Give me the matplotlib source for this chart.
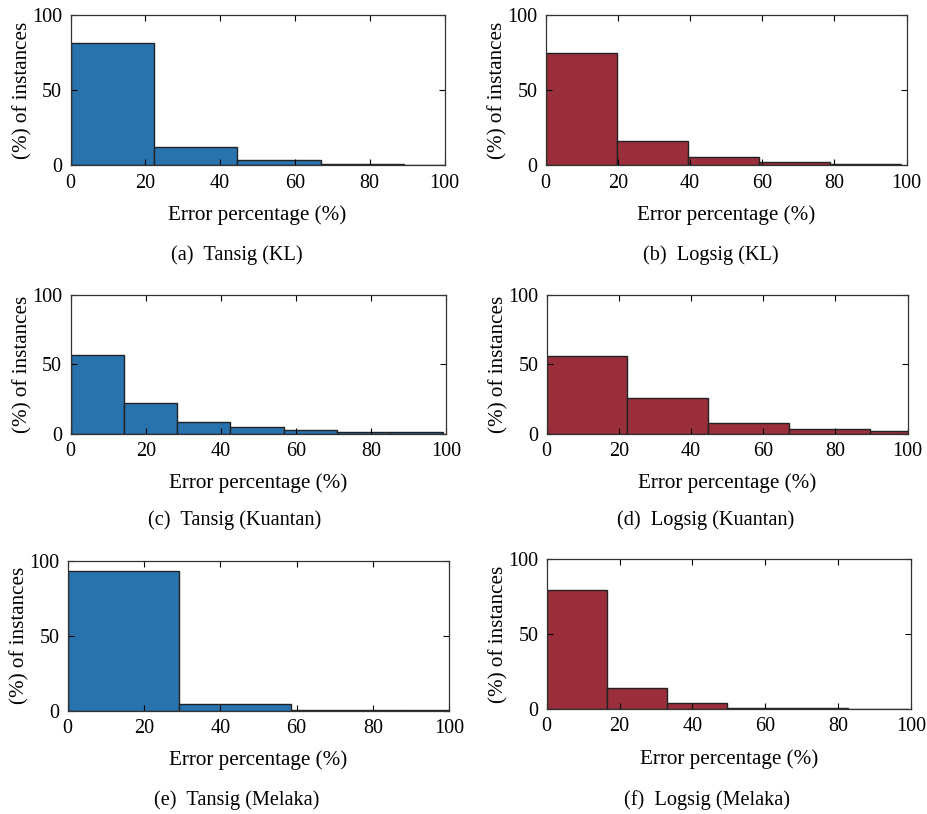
import matplotlib
matplotlib.use("Agg")
import matplotlib.pyplot as plt

plt.rcParams['font.family'] = ['Liberation Serif', 'DejaVu Serif']

# bin edges and bar heights (% of instances)
edges_a = [0, 22.3, 44.6, 66.9, 89.2, 111.5]
heights_a = [81.5, 11.8, 3.8, 0.8, 0.3]

edges_b = [0, 19.7, 39.4, 59.1, 78.8, 98.5]
heights_b = [74.6, 15.9, 5.5, 2.0, 1.1]

edges_c = [0, 14.17, 28.34, 42.51, 56.68, 70.85, 85.02, 99.19]
heights_c = [56.5, 22.0, 8.4, 5.0, 2.9, 1.4, 1.0]

edges_d = [0, 22.4, 44.8, 67.2, 89.6, 112.0]
heights_d = [56.0, 25.5, 7.7, 3.6, 2.4]

edges_e = [0, 29.25, 58.5, 87.75, 117.0]
heights_e = [93.1, 4.2, 0.7, 0.2]

edges_f = [0, 16.52, 33.04, 49.56, 66.08, 82.6, 99.12]
heights_f = [79.6, 14.0, 4.0, 0.7, 0.4, 0.2]

captions = ['(a)  Tansig (KL)', '(b)  Logsig (KL)',
            '(c)  Tansig (Kuantan)', '(d)  Logsig (Kuantan)',
            '(e)  Tansig (Melaka)', '(f)  Logsig (Melaka)']

blue = '#2872AE'
red = '#9B2E3B'

W, H = 928, 814

# axes rectangles in figure fractions, caption centre (x, y) in pixels
panels = [
    (edges_a, heights_a, blue, [0.076, 0.797, 0.403, 0.185], (237, 255)),
    (edges_b, heights_b, red, [0.588, 0.797, 0.389, 0.185], (711, 255)),
    (edges_c, heights_c, blue, [0.076, 0.467, 0.405, 0.171], (235, 520)),
    (edges_d, heights_d, red, [0.589, 0.467, 0.389, 0.171], (706, 520)),
    (edges_e, heights_e, blue, [0.073, 0.127, 0.411, 0.184], (237, 800)),
    (edges_f, heights_f, red, [0.589, 0.129, 0.393, 0.184], (707, 800)),
]

fig = plt.figure(figsize=(W / 100, H / 100), dpi=100)

for (edges, heights, color, rect, cap_pos), cap in zip(panels, captions):
    ax = fig.add_axes(rect)
    widths = [edges[i + 1] - edges[i] for i in range(len(heights))]
    ax.bar(edges[:-1], heights, width=widths, align='edge', color=color,
           edgecolor='#222222', linewidth=1.0)
    ax.set_xlim(0, 100)
    ax.set_ylim(0, 100)
    ax.set_xticks([0, 20, 40, 60, 80, 100])
    ax.set_yticks([0, 50, 100])
    ax.tick_params(direction='in', top=True, right=True, labelsize=14.5,
                   length=4, width=0.8, pad=6)
    for s in ax.spines.values():
        s.set_linewidth(0.9)
        s.set_color('#333333')
    ax.set_xlabel('Error percentage (%)', fontsize=15.2, labelpad=9)
    ax.set_ylabel('(%) of instances', fontsize=15.2, labelpad=-0.5)
    fig.text(cap_pos[0] / W, 1 - cap_pos[1] / H, cap,
             ha='center', va='center', fontsize=14.6)

fig.savefig('out.png', dpi=100)
